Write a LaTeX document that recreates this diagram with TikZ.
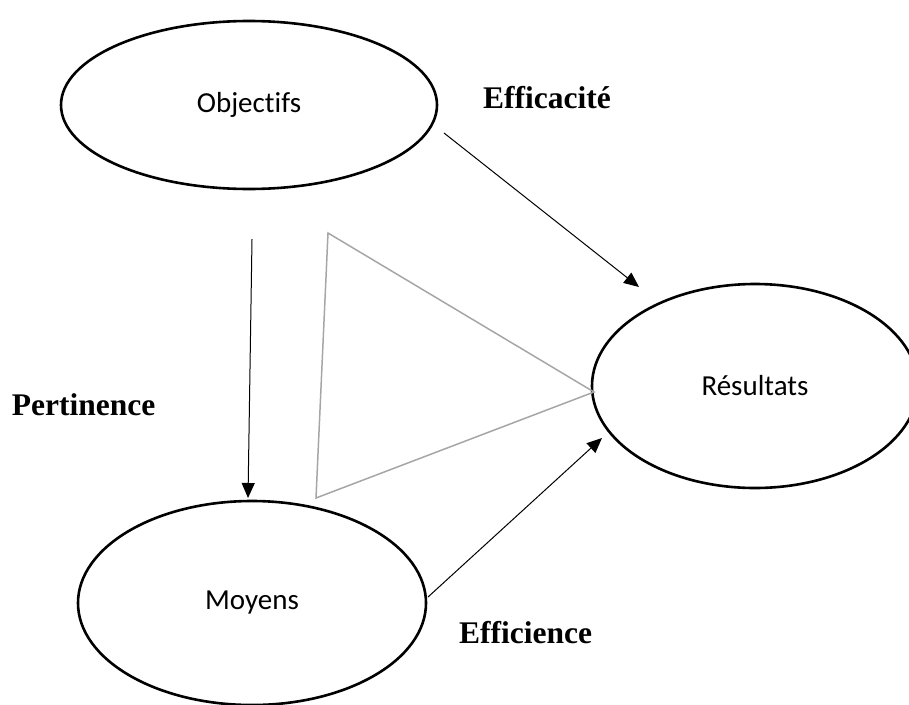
\documentclass[tikz,border=0pt]{standalone}
\usepackage{fontspec}
\setmainfont{Liberation Serif}
\newfontfamily\bubblefont[Ligatures=NoCommon]{Carlito}
\usetikzlibrary{arrows.meta,shapes.geometric}
\begin{document}
\begin{tikzpicture}[x=1pt,y=-1pt,
  bubble/.style={ellipse, draw, line width=2.6pt, inner sep=0pt,
    font=\bubblefont\fontsize{29}{34}\selectfont},
  link/.style={line width=1pt, -{Triangle[length=15pt,width=13pt]}},
  concept/.style={font=\bfseries\fontsize{31.5}{38}\selectfont,
    anchor=base west, inner sep=0pt},
  frame/.style={draw=black!35, line width=1.5pt, line join=miter}]
\useasboundingbox (0,0) rectangle (909,704);

% the three notions
\node[bubble, minimum width=376pt, minimum height=168pt] (obj) at (249,105) {Objectifs};
\node[bubble, minimum width=326pt, minimum height=204pt] (res) at (755,386) {Résultats};
\node[bubble, minimum width=348pt, minimum height=204pt] (moy) at (252,603) {Moyens};

% grey triangle between them
\draw[frame] (328,233) -- (316,498) -- (594,392) -- cycle;

% arrow end points
\coordinate (obj-out) at (252,239);
\coordinate (moy-in)  at (248,498);
\coordinate (obj-side) at (444,133);
\coordinate (res-top)  at (639,287);
\coordinate (moy-side) at (428,597);
\coordinate (res-low)  at (602,438);

\draw[link] (obj-out) -- (moy-in);
\draw[link] (obj-side) -- (res-top);
\draw[link] (moy-side) -- (res-low);

% relation names
\node[concept] (efficacite) at (483,108) {Efficacité};
\node[concept] (pertinence) at (11.7,415) {Pertinence};
\node[concept] (efficience) at (459,643) {Efficience};
\end{tikzpicture}
\end{document}
